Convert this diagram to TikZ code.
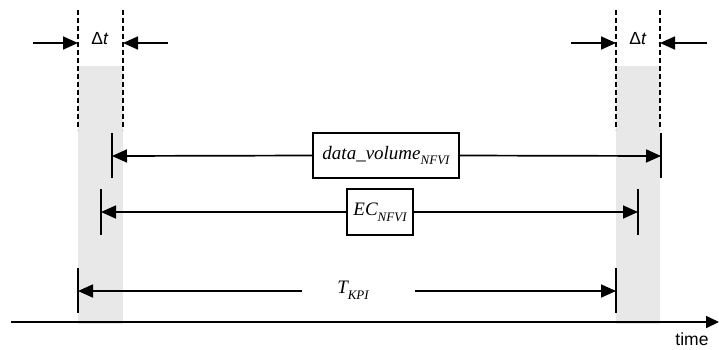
\documentclass[tikz,border=0pt]{standalone}
\usepackage{fontspec}
\setmainfont{Liberation Serif}
\setsansfont{Liberation Sans}
\usetikzlibrary{arrows.meta}
\definecolor{band}{RGB}{232,232,232}
\newcommand\lowtext[1]{\raisebox{-0.3em}{\fontsize{13}{14}\selectfont #1}}
\begin{document}
\begin{tikzpicture}[x=1pt,y=-1pt,
  guide/.style={line width=1.6pt,dash pattern=on 5pt off 3pt},
  tickline/.style={line width=1.8pt},
  dim/.style={line width=1.7pt,-{Triangle[length=15pt,width=13pt]}},
  axis/.style={line width=1.7pt,-{Triangle[length=13pt,width=12pt]}},
  valbox/.style={draw,line width=1.6pt,inner sep=0pt,font=\fontsize{19}{22}\selectfont\itshape},
  plainlbl/.style={inner sep=0pt,font=\fontsize{19}{22}\selectfont\itshape},
  deltalbl/.style={inner sep=0pt,font=\sffamily\fontsize{17.5}{20}\selectfont}]
\useasboundingbox (0,0) rectangle (719,349);

% shaded tolerance windows
\fill[band] (78,66) rectangle (123,324);
\fill[band] (616,66) rectangle (660,324);

% window boundaries
\coordinate (g1t) at (78,10);  \coordinate (g1b) at (78,130);
\coordinate (g2t) at (123,10); \coordinate (g2b) at (123,130);
\coordinate (g3t) at (616,10); \coordinate (g3b) at (616,130);
\coordinate (g4t) at (660,10); \coordinate (g4b) at (660,130);
\draw[guide] (g1t) -- (g1b);
\draw[guide] (g2t) -- (g2b);
\draw[guide] (g3t) -- (g3b);
\draw[guide] (g4t) -- (g4b);

% window width markers
\node[deltalbl] (dtl) at (100,39) {Δ\textit{t}};
\node[deltalbl] (dtr) at (638,39) {Δ\textit{t}};
\coordinate (a1) at (33,43);  \coordinate (a1e) at (78,43);
\coordinate (a2) at (168,43); \coordinate (a2e) at (123,43);
\coordinate (a3) at (571,43); \coordinate (a3e) at (616,43);
\coordinate (a4) at (707,43); \coordinate (a4e) at (660,43);
\draw[dim] (a1) -- (a1e);
\draw[dim] (a2) -- (a2e);
\draw[dim] (a3) -- (a3e);
\draw[dim] (a4) -- (a4e);

% data volume span
\coordinate (dvl) at (112,156); \coordinate (dvr) at (661,156);
\draw[tickline] (112,133) -- (112,178);
\draw[tickline] (661,133) -- (661,178);
\node[valbox,minimum width=146pt,minimum height=45pt] (dv) at (386,155.5)
  {data\_volume\lowtext{NFVI}};
\draw[dim] (dv.west) -- (dvl);
\draw[dim] (dv.east) -- (dvr);

% energy consumption span
\coordinate (ecl) at (101,212); \coordinate (ecr) at (638,212);
\draw[tickline] (101,189) -- (101,235);
\draw[tickline] (638,189) -- (638,235);
\node[valbox,minimum width=66pt,minimum height=46pt] (ec) at (380,212)
  {EC\lowtext{NFVI}};
\draw[dim] (ec.west) -- (ecl);
\draw[dim] (ec.east) -- (ecr);

% KPI period
\coordinate (kl) at (78,291); \coordinate (kr) at (616,291);
\coordinate (kls) at (302,291); \coordinate (krs) at (415,291);
\draw[tickline] (78,268) -- (78,313);
\draw[tickline] (616,268) -- (616,313);
\node[plainlbl] (kpi) at (353,290) {T\lowtext{KPI}};
\draw[dim] (kls) -- (kl);
\draw[dim] (krs) -- (kr);

% time axis
\coordinate (t0) at (11,322); \coordinate (t1) at (719,322);
\draw[axis] (t0) -- (t1);
\node[deltalbl] (tm) at (692,339) {time};
\end{tikzpicture}
\end{document}
